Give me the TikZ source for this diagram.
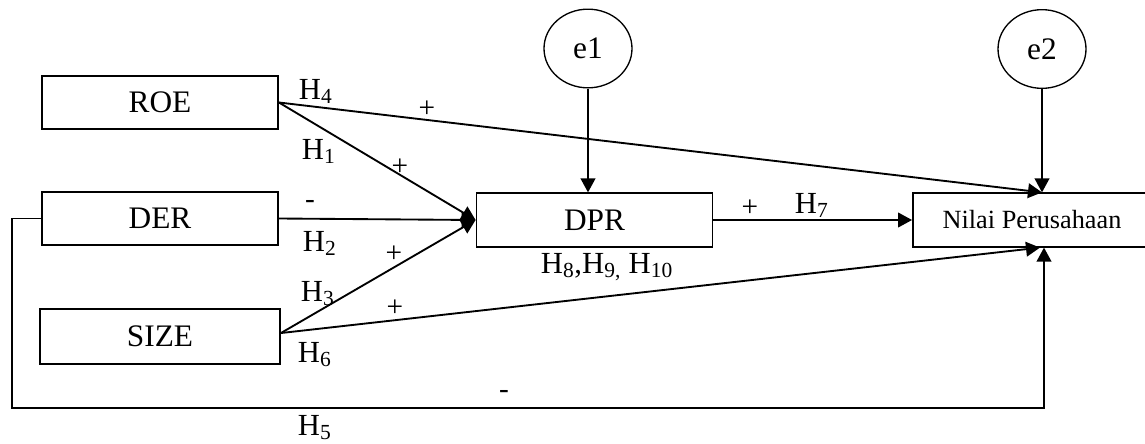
\documentclass[tikz,border=0pt]{standalone}
\usepackage{fontspec}
\setmainfont{Liberation Serif}
\usetikzlibrary{arrows.meta,shapes.geometric}
\begin{document}
\begin{tikzpicture}[x=0.75pt,y=-0.75pt,
  line width=1.4pt,
  box/.style={draw, rectangle, minimum width=177pt, minimum height=40pt, inner sep=0pt, font=\fontsize{23.5}{26}\selectfont},
  err/.style={draw, ellipse, minimum width=66pt, minimum height=59pt, inner sep=0pt, line width=1pt, font=\fontsize{23.5}{26}\selectfont},
  hyp/.style={anchor=base west, inner sep=0pt, font=\fontsize{23}{25}\selectfont},
  sgn/.style={inner sep=0pt, font=\fontsize{22}{25}\selectfont},
  arr/.style={-{Triangle[length=10.5pt,width=11pt]}},
]
\useasboundingbox (0,0) rectangle (1145,443);

% nodes
\node[box] (ROE) at (160,102.5) {ROE};
\node[box] (DER) at (160,218.5) {DER};
\node[box, minimum width=180pt, minimum height=41pt] (SIZE) at (160,336.5) {SIZE};
\node[box] (DPR) at (594.5,220) {DPR};
\node[box, minimum width=178.5pt, font=\fontsize{19.7}{22}\selectfont] (NP) at (1032,220) {Nilai Perusahaan};
\node[err] (e1) at (588,48.5) {e1};
\node[err] (e2) at (1042,49) {e2};
\coordinate (loopL) at (12,408);

% connectors
\draw[arr] (e1.south) -- (e1.south |- DPR.north);
\draw[arr] (e2.south) -- (e2.south |- NP.north);
\draw[arr] (ROE.east) -- (e2.south |- NP.north);
\draw[arr] (ROE.east) -- (DPR.west);
\draw[arr] (DER.east) -- (DPR.west);
\draw[arr] ([yshift=2.6pt]SIZE.east) -- (DPR.west);
\draw[arr] ([yshift=2.6pt]SIZE.east) -- ([xshift=-1.5pt]e2.south |- NP.south);
\draw[arr] (DPR.east) -- (NP.west);
\draw[arr] (DER.west) -| (loopL) -| ([xshift=1.5pt]e2.south |- NP.south);

% labels
\node[hyp] (h4) at (298,99) {H\textsubscript{4}};
\node[sgn] (s4) at (427,109) {+};
\node[hyp] (h1) at (301,159) {H\textsubscript{1}};
\node[sgn] (s1) at (400,167) {+};
\node[sgn] (s2) at (310,204) {-};
\node[hyp] (h2) at (302,251) {H\textsubscript{2}};
\node[sgn] (s3) at (394,254) {+};
\node[hyp] (h3) at (300,301) {H\textsubscript{3}};
\node[sgn] (s6) at (395,308) {+};
\node[hyp] (h6) at (297,362) {H\textsubscript{6}};
\node[sgn] (s5) at (504,394) {-};
\node[hyp] (h5) at (297,435) {H\textsubscript{5}};
\node[sgn] (s7) at (750,208) {+};
\node[hyp] (h7) at (794,213) {H\textsubscript{7}};
\node[hyp] (h8) at (540,273) {H\textsubscript{8},H\textsubscript{9,} H\textsubscript{10}};
\end{tikzpicture}
\end{document}
